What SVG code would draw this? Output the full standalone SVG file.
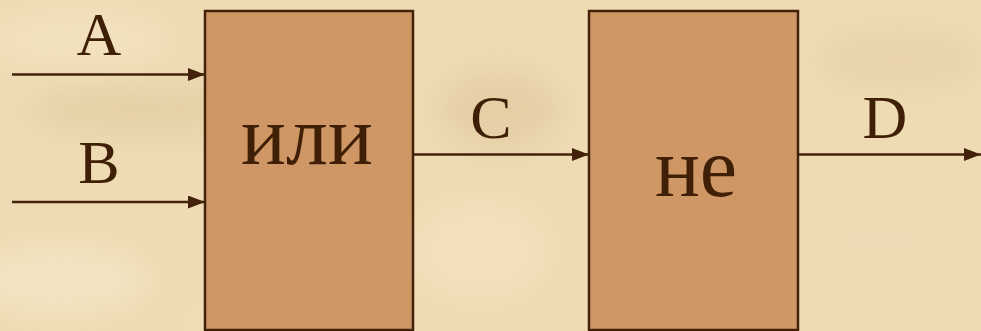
<svg xmlns="http://www.w3.org/2000/svg" width="981" height="331" viewBox="0 0 981 331">
<defs>
<style>
.box{fill:#cf9765;stroke:#43220a;stroke-width:2.5}
.lbl{font-family:"Liberation Serif","Times New Roman",serif;fill:#3f1f05;text-anchor:middle}
.sig{font-size:62px}
.op{font-size:84px}
.wire{stroke:#43220a;stroke-width:2.7;fill:none;marker-end:url(#ah)}
</style>
<marker id="ah" markerUnits="userSpaceOnUse" markerWidth="18" markerHeight="14" refX="17" refY="6.5" orient="auto">
<path d="M0,0 L17,6.5 L0,13 Z" fill="#43220a"/>
</marker>
<filter id="blur" x="-20%" y="-20%" width="140%" height="140%"><feGaussianBlur stdDeviation="14"/></filter>
</defs>
<rect width="981" height="331" fill="#eedbb3"/>
<g filter="url(#blur)" opacity="0.7">
<ellipse cx="80" cy="40" rx="90" ry="30" fill="#f4e4c2"/>
<ellipse cx="150" cy="110" rx="120" ry="25" fill="#e3cda2"/>
<ellipse cx="60" cy="280" rx="90" ry="35" fill="#f5e7c8"/>
<ellipse cx="500" cy="110" rx="60" ry="40" fill="#e2caa0"/>
<ellipse cx="480" cy="250" rx="70" ry="50" fill="#f4e3c0"/>
<ellipse cx="900" cy="60" rx="80" ry="30" fill="#e6d1a8"/>
<ellipse cx="880" cy="240" rx="90" ry="40" fill="#efdcb6"/>
<ellipse cx="300" cy="320" rx="120" ry="20" fill="#f2e1bf"/>
</g>
<g id="connectors">
<line class="wire" x1="12" y1="74.5" x2="205" y2="74.5"/>
<line class="wire" x1="12" y1="202" x2="205" y2="202"/>
<line class="wire" x1="413" y1="154.5" x2="589" y2="154.5"/>
<line class="wire" x1="798" y1="154.5" x2="981" y2="154.5"/>
</g>
<g id="labels">
<text class="lbl sig" x="99" y="55">A</text>
<text class="lbl sig" x="99" y="183">B</text>
<text class="lbl sig" x="491" y="138">C</text>
<text class="lbl sig" x="885" y="138">D</text>
</g>
<g id="or">
<rect class="box" x="205" y="11" width="208" height="319"/>
<text class="lbl op" x="307" y="164">или</text>
</g>
<g id="not">
<rect class="box" x="589" y="11" width="209" height="319"/>
<text class="lbl op" x="696" y="196">не</text>
</g>
</svg>
